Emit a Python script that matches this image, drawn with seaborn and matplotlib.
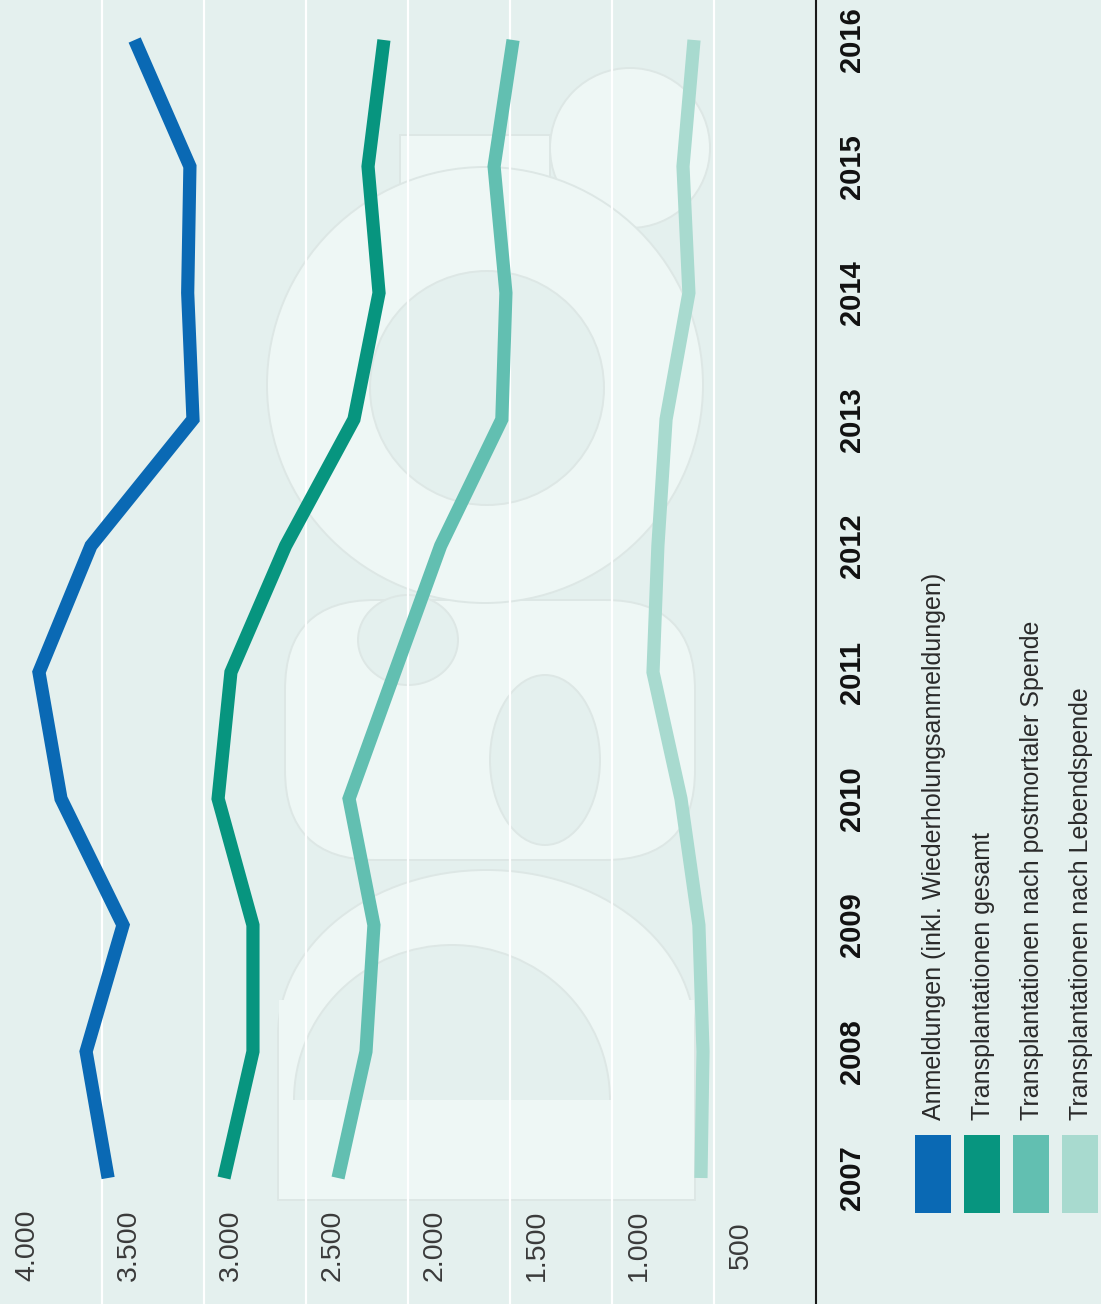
import numpy as np
import pandas as pd
import seaborn as sns
import matplotlib
matplotlib.use("Agg")
import matplotlib.pyplot as plt
import matplotlib.transforms as mtransforms
import matplotlib.patches as mpatches
from matplotlib import font_manager as fm

# ---------------- data ----------------
years = [2007, 2008, 2009, 2010, 2011, 2012, 2013, 2014, 2015, 2016]
anmeldungen = [3470, 3578, 3397, 3701, 3809, 3554, 3054, 3080, 3069, 3340]
gesamt = [2902, 2760, 2760, 2931, 2868, 2600, 2265, 2142, 2196, 2118]
postmortal = [2343, 2206, 2167, 2289, 2065, 1840, 1540, 1520, 1578, 1485]
lebend = [564, 554, 574, 662, 799, 775, 735, 623, 652, 598]

series_names = [
    "Anmeldungen (inkl. Wiederholungsanmeldungen)",
    "Transplantationen gesamt",
    "Transplantationen nach postmortaler Spende",
    "Transplantationen nach Lebendspende",
]
series_colors = ["#0a69b4", "#07957f", "#62bfb1", "#a8dacf"]

tick_values = [4000, 3500, 3000, 2500, 2000, 1500, 1000, 500]
tick_labels = ["4.000", "3.500", "3.000", "2.500", "2.000", "1.500", "1.000", "500"]
grid_values = [3500, 3000, 2500, 2000, 1500, 1000, 500]

# ---------------- style ----------------
BG = "#e4f0ee"
LIGHT = "#eef7f5"
sns.set_style("white")
names = {f.name for f in fm.fontManager.ttflist}
NARROW = "Liberation Sans Narrow" if "Liberation Sans Narrow" in names else "Liberation Sans"
REG = "Liberation Sans" if "Liberation Sans" in names else "DejaVu Sans"
plt.rcParams["font.family"] = [REG, "DejaVu Sans"]

W, H = 1101, 1304
fig = plt.figure(figsize=(W / 100, H / 100), dpi=100)
fig.patch.set_facecolor(BG)
ax = fig.add_axes([0, 0, 816 / W, 1])
ax.set_facecolor(BG)

# pixel transform (origin top-left)
T_px = mtransforms.Affine2D().scale(1 / W, -1 / H).translate(0, 1) + fig.transFigure

# ---------------- watermark (decorative) ----------------
def light(p, z=0.3, col=LIGHT):
    p.set_transform(T_px)
    p.set_facecolor(col)
    p.set_edgecolor("#dde7e5")
    p.set_linewidth(1.4)
    p.set_zorder(z)
    ax.add_patch(p)
    return p

# D
light(mpatches.Rectangle((278, 1035), 417, 165))
light(mpatches.Ellipse((486.5, 1035), 417, 330))
light(mpatches.Rectangle((279, 1000), 415, 199), z=0.31).set_edgecolor("none")
hole = light(mpatches.Ellipse((452, 1100), 316, 310), z=0.32, col=BG)
clip = mpatches.Rectangle((280, 900), 350, 200, transform=T_px)
hole.set_clip_path(clip)
# S
light(mpatches.FancyBboxPatch((285, 600), 410, 260, boxstyle="round,pad=0,rounding_size=90"), z=0.33)
light(mpatches.Ellipse((545, 760), 110, 170), z=0.34, col=BG)
light(mpatches.Ellipse((408, 640), 100, 90), z=0.34, col=BG)
# O
light(mpatches.Rectangle((400, 135), 150, 95), z=0.35)
light(mpatches.Circle((630, 148), 80), z=0.36)
light(mpatches.Circle((485, 385), 218), z=0.37)
light(mpatches.Circle((487, 388), 117), z=0.38, col=BG)

# ---------------- grid ----------------
for v in grid_values:
    ax.axvline(v, color="white", lw=1.6, zorder=1)

# ---------------- lines ----------------
df = pd.concat([
    pd.DataFrame({"year": years, "value": vals, "series": name})
    for name, vals in zip(series_names, [anmeldungen, gesamt, postmortal, lebend])
], ignore_index=True)

sns.lineplot(data=df, x="value", y="year", hue="series", hue_order=series_names,
             palette=series_colors, orient="y", estimator=None, linewidth=9.5,
             legend=False, ax=ax, zorder=3, solid_capstyle="butt",
             solid_joinstyle="miter")

ax.set_xlim(4000, 0)
ax.set_ylim(2007 - (1304 - 1178) / 126.44, 2016 + 40 / 126.44)
ax.set_xticks([])
ax.set_yticks([])
ax.set_xlabel("")
ax.set_ylabel("")
for s in ["left", "top", "bottom"]:
    ax.spines[s].set_visible(False)
ax.spines["right"].set_color("#1a1a1a")
ax.spines["right"].set_linewidth(1.5)

# value labels (rotated)
tr_val = mtransforms.offset_copy(
    mtransforms.blended_transform_factory(ax.transData, ax.transAxes), fig=fig, x=27, y=0, units="dots")
for v, lab in zip(tick_values, tick_labels):
    ax.text(v, 1 - 1245 / H, lab, transform=tr_val, rotation=90, ha="center", va="center",
            fontsize=20.5, color="#3a3a3a", family=REG)

# year labels (rotated)
tr_year = mtransforms.offset_copy(
    mtransforms.blended_transform_factory(ax.transAxes, ax.transData), fig=fig, x=36, y=0, units="dots")
for y in years:
    ax.text(1, y, str(y), transform=tr_year, rotation=90, ha="center", va="center",
            fontsize=21, fontweight="bold", color="#111111", family=NARROW, clip_on=False)

# legend (rotated, manual)
sq_x = [915, 964, 1013, 1062]
for xx, col, name in zip(sq_x, series_colors, series_names):
    fig.add_artist(mpatches.Rectangle((xx, 1135), 36, 78, transform=T_px, facecolor=col, edgecolor="none"))
    fig.text(xx + 19, 1120, name, transform=T_px, rotation=90, ha="center", va="bottom",
             fontsize=18, color="#2a2a2a", family=NARROW)

fig.savefig("out.png", dpi=100, facecolor=BG)
